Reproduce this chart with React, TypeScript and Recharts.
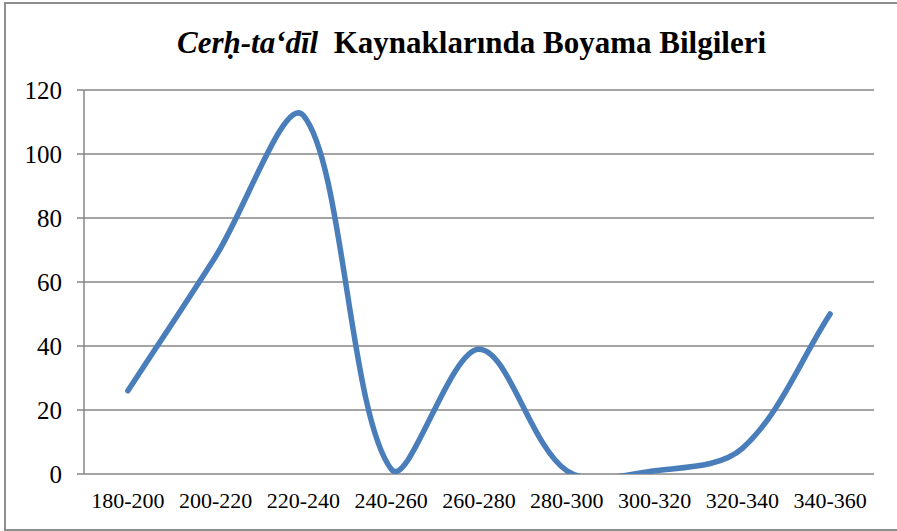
import { CartesianGrid, Line, LineChart, XAxis, YAxis } from 'recharts'

const categories = [
  '180-200',
  '200-220',
  '220-240',
  '240-260',
  '260-280',
  '280-300',
  '300-320',
  '320-340',
  '340-360',
]
const counts = [26, 68, 112, 1.5, 39, 1, 1, 8, 50]
const yTicks = [0, 20, 40, 60, 80, 100, 120]
const edgeTicks = [0, 1, 2, 3, 4, 5, 6, 7, 8, 9]

const data = categories.map((label, i) => ({ label, count: counts[i] }))

const GRAY = '#868686'
const FONT = '"Liberation Serif", "Times New Roman", serif'

// Excel-like smoothed line: cubic bezier, tangents weighted by segment length
function excelSmooth(context: any) {
  let pts: number[][] = []
  const dist = (a: number[], b: number[]) => Math.hypot(b[0] - a[0], b[1] - a[1])
  return {
    areaStart() {},
    areaEnd() {},
    lineStart() {
      pts = []
    },
    point(x: number, y: number) {
      pts.push([+x, +y])
    },
    lineEnd() {
      const n = pts.length
      if (!n) return
      context.moveTo(pts[0][0], pts[0][1])
      for (let i = 0; i < n - 1; i++) {
        const p0 = pts[Math.max(i - 1, 0)]
        const p1 = pts[i]
        const p2 = pts[i + 1]
        const p3 = pts[Math.min(i + 2, n - 1)]
        const d01 = dist(p0, p1)
        const d12 = dist(p1, p2)
        const d23 = dist(p2, p3)
        const k1 = d12 / (d01 + d12 || 1) / 3
        const k2 = d12 / (d12 + d23 || 1) / 3
        context.bezierCurveTo(
          p1[0] + (p2[0] - p0[0]) * k1,
          p1[1] + (p2[1] - p0[1]) * k1,
          p2[0] - (p3[0] - p1[0]) * k2,
          p2[1] - (p3[1] - p1[1]) * k2,
          p2[0],
          p2[1]
        )
      }
    },
  }
}

export default function App() {
  return (
    <div style={{ position: 'absolute', left: 0, top: 0, width: 897, height: 531, background: '#fff', overflow: 'hidden' }}>
      <div
        style={{
          position: 'absolute',
          left: 4,
          top: 2,
          width: 900,
          height: 525,
          border: '2px solid #8e8e8e',
        }}
      />
      <div
        style={{
          position: 'absolute',
          left: 0,
          top: 25,
          width: 943,
          textAlign: 'center',
          fontFamily: FONT,
          fontWeight: 'bold',
          fontSize: 31,
          color: '#000',
          whiteSpace: 'pre',
        }}
      >
        <i>Cerḥ-ta‘dīl</i>
        {'  Kaynaklarında Boyama Bilgileri'}
      </div>
      <div style={{ position: 'absolute', left: 0, top: 0 }}>
        <LineChart width={897} height={531} data={data} margin={{ top: 90, right: 23, bottom: 17, left: 0 }}>
          <CartesianGrid vertical={false} stroke={GRAY} strokeWidth={1.5} />
          <XAxis
            xAxisId='edges'
            type='number'
            domain={[0, 9]}
            ticks={edgeTicks}
            allowDataOverflow
            height={0}
            tickSize={7}
            tickFormatter={() => ''}
            stroke={GRAY}
            axisLine={{ stroke: GRAY, strokeWidth: 1.5 }}
            tickLine={{ stroke: GRAY, strokeWidth: 1.5 }}
          />
          <XAxis
            xAxisId='cat'
            dataKey='label'
            scale='band'
            height={40}
            axisLine={false}
            tickLine={false}
            tickSize={0}
            tickMargin={18}
            interval={0}
            tick={{ fill: '#000', fontSize: 22, fontFamily: FONT }}
          />
          <YAxis
            domain={[0, 120]}
            ticks={yTicks}
            allowDataOverflow
            width={84}
            tickSize={7}
            tickMargin={15}
            axisLine={{ stroke: GRAY, strokeWidth: 1.5 }}
            tickLine={{ stroke: GRAY, strokeWidth: 1.5 }}
            tick={{ fill: '#000', fontSize: 25, fontFamily: FONT }}
          />
          <Line
            xAxisId='cat'
            dataKey='count'
            type={excelSmooth as any}
            stroke='#4a7ebb'
            strokeWidth={5.5}
            strokeLinecap='round'
            dot={false}
            activeDot={false}
            isAnimationActive={false}
          />
        </LineChart>
      </div>
    </div>
  )
}
